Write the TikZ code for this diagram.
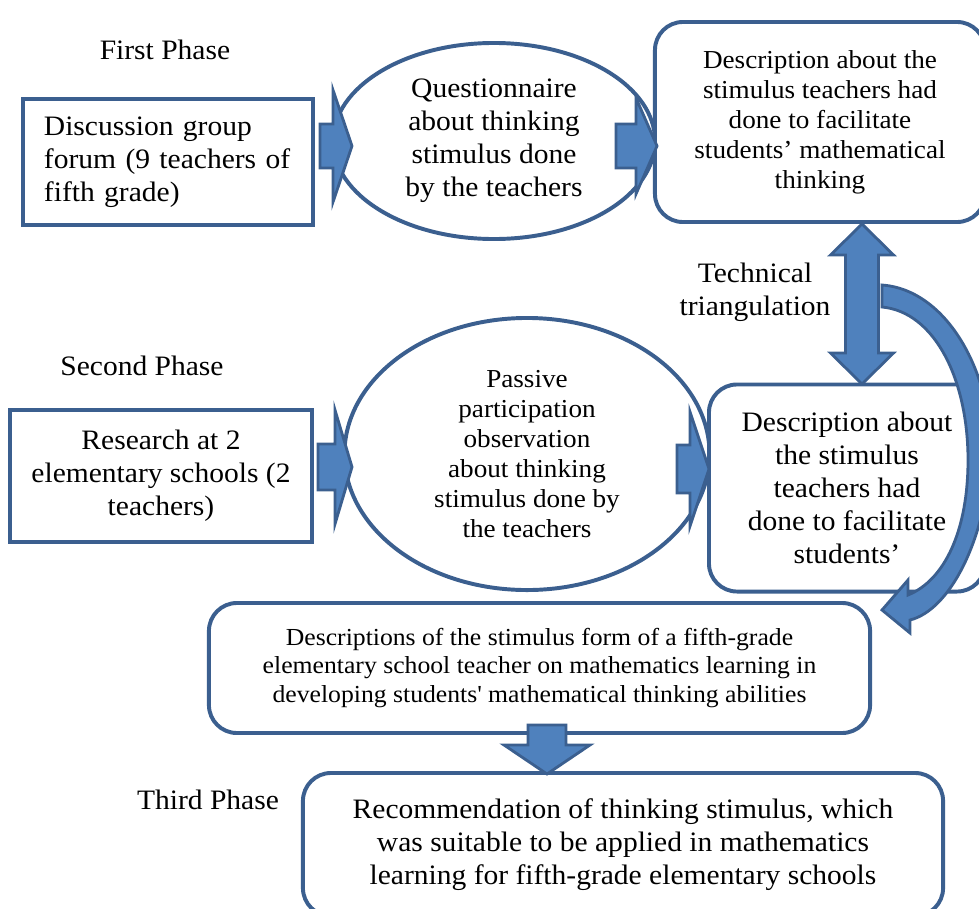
\documentclass[tikz,border=0pt]{standalone}
\usepackage{fontspec}
\setmainfont{Liberation Serif}[FakeStretch=1.05]
\usepackage{xcolor}
\usetikzlibrary{positioning,shapes.geometric,calc}

\definecolor{frameblue}{HTML}{3B5F8F}
\definecolor{arrowblue}{HTML}{4F81BD}
\newcommand{\fsbig}{\fontsize{20}{23.5}\selectfont}
\newcommand{\fsmid}{\fontsize{18.4}{21.4}\selectfont}
\newcommand{\fssmall}{\fontsize{17.4}{20.6}\selectfont}
\newcommand{\rarrow}[5]{\draw[blk] #1 ++(0,#3) -- ++({#2-#5},0) -- ++(0,{#4-#3}) -- ++(#5,-#4) -- ++(-#5,-#4) -- ++(0,{#4-#3}) -- ++({#5-#2},0) -- cycle;}
\newcommand{\darrow}[5]{\draw[blk] #1 ++(-#3,0) -- ++(0,{#2-#5}) -- ++({#3-#4},0) -- ++(#4,#5) -- ++(#4,-#5) -- ++({#3-#4},0) -- ++(0,{#5-#2}) -- cycle;}

\begin{document}
\begin{tikzpicture}[x=0.025cm, y=-0.025cm,
  font=\fsbig,
  plain/.style={draw=frameblue, line width=2.8pt, fill=white, align=center, inner sep=2pt},
  sqbox/.style={plain, rectangle},
  rbox/.style={plain, rectangle, rounded corners=0.7cm},
  ell/.style={plain, ellipse, inner sep=1pt},
  phaselbl/.style={align=center, inner sep=0pt},
  blk/.style={draw=frameblue, fill=arrowblue, line width=2pt, line join=miter}]
\path[use as bounding box, clip] (0,0) rectangle (979,908);

\node[phaselbl] (ph1) at (165,50) {First Phase};
\node[phaselbl] (ph2) at (142,366) {Second Phase};
\node[phaselbl] (ph3) at (208,800) {Third Phase};
\node[phaselbl] (tri) at (755,292) {Technical\\triangulation};

\node[sqbox, minimum width=7.25cm, minimum height=3.15cm, text width=6.2cm, align=left] (disc) at (168,162)
  {Discussion group\\forum (9 teachers of\\fifth grade)};
\node[ell, minimum width=8.05cm, minimum height=4.9cm] (quest) at (494,141)
  {Questionnaire\\about thinking\\stimulus done\\by the teachers};
\node[rbox, font=\fsmid, minimum width=8.25cm, minimum height=5cm] (descA) at (820,122)
  {Description about the\\stimulus teachers had\\done to facilitate\\students’ mathematical\\thinking};

\node[sqbox, minimum width=7.55cm, minimum height=3.3cm] (research) at (161,476)
  {Research at 2\\elementary schools (2\\teachers)};
\node[ell, font=\fsmid, minimum width=9.125cm, minimum height=6.8cm] (passive) at (527,454)
  {Passive\\participation\\observation\\about thinking\\stimulus done by\\the teachers};
\node[rbox, minimum width=6.9cm, minimum height=5.175cm] (descB) at (847,488)
  {Description about\\the stimulus\\teachers had\\done to facilitate\\students’};

\node[rbox, font=\fssmall, minimum width=16.525cm, minimum height=3.25cm] (descC) at (539.5,668)
  {Descriptions of the stimulus form of a fifth-grade\\elementary school teacher on mathematics learning in\\developing students\textquotesingle{} mathematical thinking abilities};
\node[rbox, minimum width=16cm, minimum height=3.575cm] (recom) at (623,844.5)
  {Recommendation of thinking stimulus, which\\was suitable to be applied in mathematics\\learning for fifth-grade elementary schools};

\rarrow{($(disc.east)+(5,-16)$)}{32}{22}{56}{19}
\rarrow{($(quest.east)+(-41,5)$)}{41}{22}{48}{21}
\rarrow{($(research.east)+(4,-9)$)}{34}{23}{57}{17}
\rarrow{($(passive.east)+(-34.5,15)$)}{32}{24}{57}{19}
\darrow{($(descC.south)+(7.5,-10)$)}{49}{19}{43}{29}

\draw[blk] ($(descA.south)+(42,0)$) -- ++(31.5,31) -- ++(-15,0) -- ++(0,98) -- ++(15,0)
  -- ++(-31.5,31) -- ++(-31.5,-31) -- ++(15,0) -- ++(0,-98) -- ++(-15,0) -- cycle;

\draw[blk] (882,285) .. controls (950,290) and (995,380) .. (990,460)
  .. controls (985,540) and (950,610) .. (910,620) -- (910,633) -- (882,610) -- (908,580) -- (908,595)
  .. controls (945,580) and (968,530) .. (968,460)
  .. controls (968,380) and (935,312) .. (882,307) -- cycle;
\end{tikzpicture}
\end{document}
